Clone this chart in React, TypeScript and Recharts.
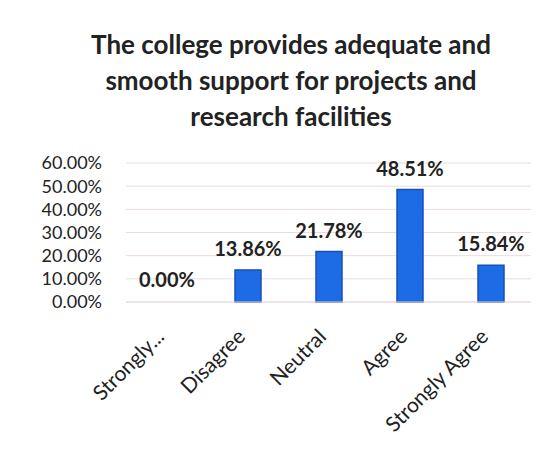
import { BarChart, Bar, XAxis, YAxis, CartesianGrid, LabelList, Rectangle } from "recharts";

const categories = ["Strongly...", "Disagree", "Neutral", "Agree", "Strongly Agree"];
const shares = [0, 0.1386, 0.2178, 0.4851, 0.1584];
const yTicks = [0, 0.1, 0.2, 0.3, 0.4, 0.5, 0.6];
const titleLines = [
  "The college provides adequate and",
  "smooth support for projects and",
  "research facilities",
];

const data = categories.map((name, i) => ({ name, value: shares[i] }));

const FONT = "Lato, 'Open Sans', sans-serif";
const pct = (v: number) => `${(v * 100).toFixed(2)}%`;

function SlantTick(props: any) {
  const { x, y, payload } = props;
  const ax = x - 7;
  const ay = y + 22;
  return (
    <text
      x={ax}
      y={ay}
      transform={`rotate(-45, ${ax}, ${ay})`}
      textAnchor="end"
      dominantBaseline="central"
      fontSize={21}
      fontFamily={FONT}
      fill="#222"
    >
      {payload.value}
    </text>
  );
}

// zero values still get a label, but no visible sliver of a bar
function BarShape(props: any) {
  if (!props.value) return null;
  return <Rectangle {...props} />;
}

export default function App() {
  return (
    <div style={{ position: "absolute", left: 0, top: 0, width: 555, height: 451, background: "#fff" }}>
      <div
        style={{
          position: "absolute",
          left: 0,
          top: 26,
          width: 582,
          textAlign: "center",
          fontFamily: FONT,
          fontWeight: 700,
          fontSize: 26,
          lineHeight: "36px",
          color: "#222",
        }}
      >
        {titleLines.map((t) => (
          <div key={t}>{t}</div>
        ))}
      </div>
      <BarChart
        width={555}
        height={451}
        data={data}
        margin={{ top: 163, right: 24, bottom: 0, left: 0 }}
      >
        <CartesianGrid vertical={false} stroke="#eadcdc" />
        <XAxis
          dataKey="name"
          axisLine={{ stroke: "#eadcdc" }}
          tickLine={false}
          interval={0}
          height={149}
          tick={<SlantTick />}
        />
        <YAxis
          domain={[0, 0.6]}
          ticks={yTicks}
          interval={0}
          tickFormatter={pct}
          axisLine={false}
          tickLine={false}
          tickSize={0}
          tickMargin={24}
          width={126}
          tick={{ fontSize: 18, fontFamily: FONT, fill: "#222" }}
        />
        <Bar
          dataKey="value"
          fill="#1d6ce6"
          stroke="#1650b8"
          strokeWidth={1.5}
          barSize={26}
          minPointSize={1}
          shape={<BarShape />}
          isAnimationActive={false}
        >
          <LabelList
            dataKey="value"
            position="top"
            offset={14}
            formatter={(v: any) => pct(Number(v))}
            style={{ fontSize: 20, fontWeight: 700, fontFamily: FONT, fill: "#222" }}
          />
        </Bar>
      </BarChart>
    </div>
  );
}
